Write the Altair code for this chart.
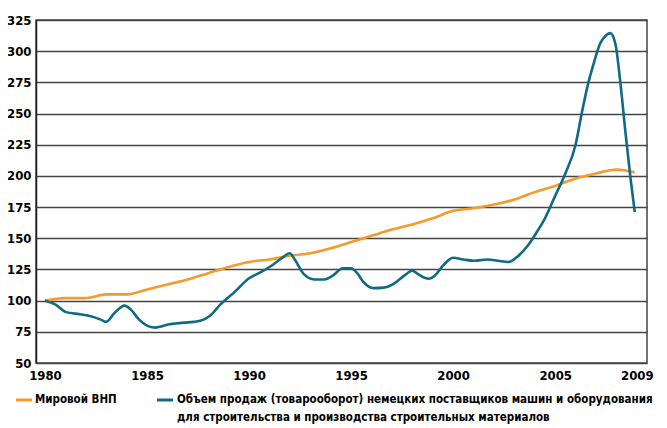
import altair as alt
import pandas as pd

gnp_years = [1980, 1981, 1982, 1983, 1984, 1985, 1986, 1987, 1988, 1989, 1990,
             1991, 1992, 1993, 1994, 1995, 1996, 1997, 1998, 1999, 2000, 2001,
             2002, 2003, 2004, 2005, 2006, 2007, 2008, 2008.9]
gnp_values = [100, 102, 102, 105, 105, 109, 113, 117, 122, 127, 131,
              133, 136, 138, 142, 147, 152, 157, 161, 166, 172, 174,
              177, 181, 187, 192, 198, 202, 205, 203]

sales_years = [1980, 1980.5, 1981, 1981.5, 1982.1, 1982.7, 1983.0, 1983.4, 1983.9, 1984.2,
               1984.6, 1985.0, 1985.4, 1986.1, 1986.8, 1987.3, 1987.8, 1988.1, 1988.6, 1989.3,
               1990.0, 1990.6, 1991.1, 1991.6, 1992.0, 1992.2, 1992.7, 1993.2, 1993.7, 1994.1,
               1994.6, 1995.0, 1995.3, 1995.6, 1996.1, 1996.6, 1997.1, 1997.6, 1998.0, 1998.3,
               1998.8, 1999.1, 1999.5, 2000.0, 2000.5, 2001.0, 2001.7, 2002.2, 2002.7, 2003.2,
               2003.7, 2004.1, 2004.5, 2005.0, 2005.5, 2006.0, 2006.3, 2006.6, 2006.85, 2007.2,
               2007.45, 2007.7, 2007.95, 2008.2, 2008.45, 2008.7, 2008.9]
sales_values = [100, 97, 91, 89.6, 88, 85, 83, 90, 96, 93,
                85, 80, 78.4, 81, 82.4, 83, 85, 88, 97, 107,
                118, 123, 128, 134, 138, 134, 121, 117, 117, 120,
                126, 126, 122, 115, 110, 110.4, 113.6, 120, 124, 121,
                117.6, 120, 128, 134.4, 133, 132, 133, 132, 131, 136,
                145, 155, 166, 184, 202, 225, 250, 273, 288, 306,
                312, 314.5, 306, 274, 234, 197, 171]

series_names = ["Мировой ВНП",
                "Объем продаж (товарооборот) немецких поставщиков машин и оборудования"]
legend_line2 = "для строительства и производства строительных материалов"
series_colors = ["#F59A2B", "#0F6B84"]
x_ticks = [1980, 1985, 1990, 1995, 2000, 2005, 2009]
y_ticks = [50, 75, 100, 125, 150, 175, 200, 225, 250, 275, 300, 325]

df = pd.concat([
    pd.DataFrame({"year": gnp_years, "value": gnp_values, "series": series_names[0], "ord": 0}),
    pd.DataFrame({"year": sales_years, "value": sales_values, "series": series_names[1], "ord": 1}),
])

FONT = "DejaVu Sans Condensed"

lines = alt.Chart(df).mark_line(strokeWidth=2.6, interpolate="monotone").encode(
    x=alt.X("year:Q", scale=alt.Scale(domain=[1979.56, 2009.5], nice=False, zero=False),
            axis=alt.Axis(values=x_ticks, format="d", title=None, grid=False, ticks=False,
                          domain=False, labelFont=FONT, labelFontWeight="bold",
                          labelFontSize=13, labelColor="#000", labelPadding=6)),
    y=alt.Y("value:Q", scale=alt.Scale(domain=[50, 325], nice=False, zero=False),
            axis=alt.Axis(values=y_ticks, title=None, ticks=False, domain=True,
                          domainColor="#222", domainWidth=1.5,
                          gridColor="#444", gridWidth=1.5, gridOpacity=1,
                          labelFont=FONT, labelFontWeight="bold", labelFontSize=13,
                          labelColor="#000", labelPadding=5)),
    color=alt.Color("series:N",
                    scale=alt.Scale(domain=series_names, range=series_colors),
                    legend=None),
    order="ord:Q",
    detail="series:N",
)

base = alt.Chart(pd.DataFrame({"a": [0]}))
leg_rule1 = base.mark_rule(strokeWidth=3, color=series_colors[0]).encode(
    x=alt.value(-20), x2=alt.value(-4), y=alt.value(380))
leg_rule2 = base.mark_rule(strokeWidth=3, color=series_colors[1]).encode(
    x=alt.value(121), x2=alt.value(137), y=alt.value(380))
txt = dict(font=FONT, fontWeight="bold", fontSize=11.5, color="#000",
           align="left", baseline="middle")
leg_t1 = base.mark_text(**txt).encode(x=alt.value(-1), y=alt.value(380),
                                      text=alt.value(series_names[0]))
leg_t2 = base.mark_text(**txt).encode(x=alt.value(141), y=alt.value(380),
                                      text=alt.value(series_names[1]))
leg_t3 = base.mark_text(**txt).encode(x=alt.value(141), y=alt.value(398),
                                      text=alt.value(legend_line2))

chart = alt.layer(lines, leg_rule1, leg_rule2, leg_t1, leg_t2, leg_t3).properties(
    width=611, height=343,
    autosize=alt.AutoSizeParams(type="none"),
    padding={"left": 28, "top": 12, "right": 12, "bottom": 61},
).configure_view(stroke="#444", strokeWidth=1.5)

chart.save("out.html", embed_options={"renderer": "svg", "actions": False})
